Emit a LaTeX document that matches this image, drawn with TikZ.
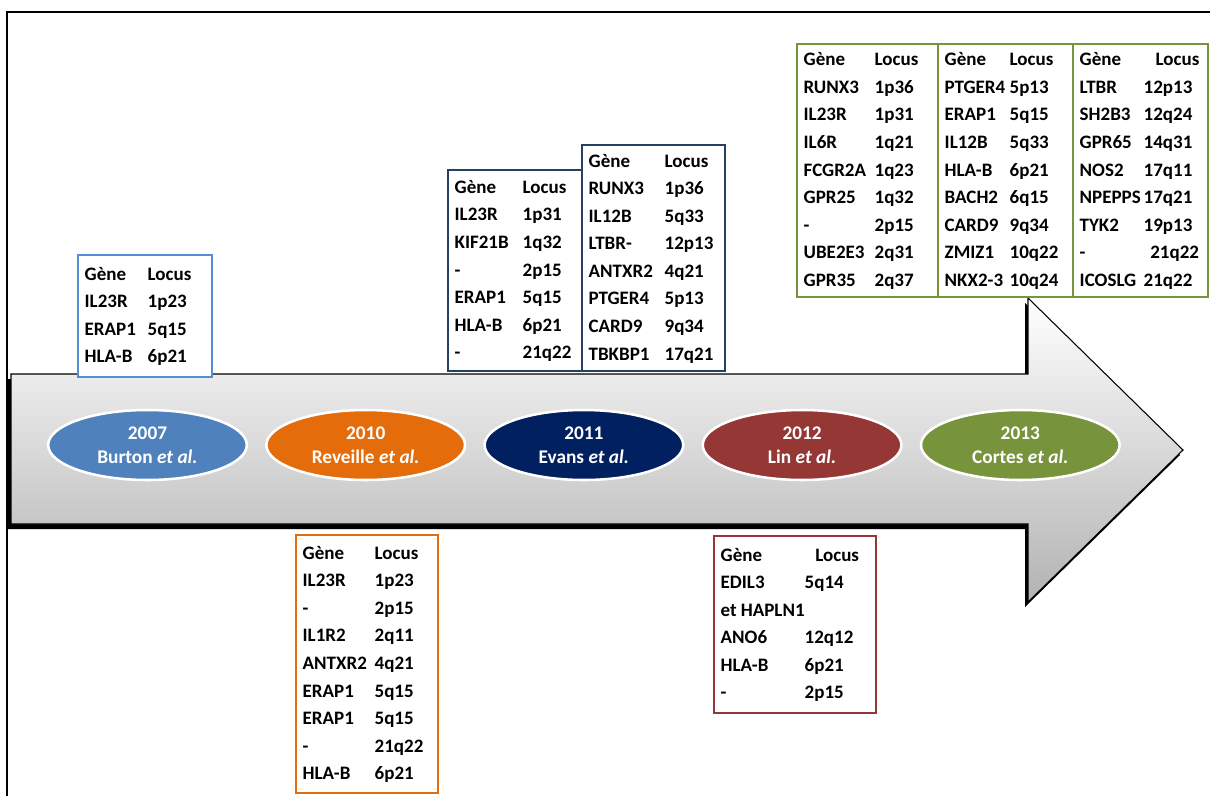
\documentclass[tikz,border=0pt]{standalone}
\usepackage{fontspec}
\setmainfont{Carlito}
\usetikzlibrary{positioning,shapes.geometric}
\definecolor{burtonblue}{HTML}{4F81BD}
\definecolor{burtonline}{HTML}{558ED5}
\definecolor{reveilleorange}{HTML}{E46C0A}
\definecolor{evansnavy}{HTML}{002060}
\definecolor{evansline}{HTML}{254061}
\definecolor{linred}{HTML}{953735}
\definecolor{cortesgreen}{HTML}{77933C}
\newcommand{\genetab}[3]{\begin{tabular}{@{}p{#1}@{}p{#2}@{}}#3\end{tabular}}

\begin{document}
\begin{tikzpicture}[x=0.75pt,y=-0.75pt,
	yearnode/.style={ellipse,draw=white,line width=1.9pt,fill=#1,minimum width=149pt,minimum height=52.5pt,inner sep=0pt,text=white,align=center,font=\fontsize{14.5}{18}\selectfont\bfseries},
	genebox/.style={rectangle,draw=#1,line width=1.5pt,fill=white,inner xsep=5pt,inner ysep=0pt,outer sep=0pt,anchor=north west,font=\fontsize{14.25}{20.68}\selectfont\bfseries},
	node distance=12.75pt]
		\useasboundingbox (0,0) rectangle (1210,796);
		\draw[line width=1.7pt] (7,796) -- (7,12) -- (1210,12);
		% timeline arrow
		\fill[black,shift={(-3,5)}] (11,374) -- (1028,374) -- (1028,298) -- (1183,450) -- (1028,602) -- (1028,524) -- (11,524) -- cycle;
		\shade[top color=white,bottom color=black!30,draw=black,line width=0.8pt] (11,374) -- (1028,374) -- (1028,298) -- (1183,450) -- (1028,602) -- (1028,524) -- (11,524) -- cycle;
		% studies
		\node[yearnode=burtonblue] (y2007) at (147.5,445) {2007\\Burton \textit{et al.}};
		\node[yearnode=reveilleorange] (y2010) [right=of y2007] {2010\\Reveille \textit{et al.}};
		\node[yearnode=evansnavy] (y2011) [right=of y2010] {2011\\Evans \textit{et al.}};
		\node[yearnode=linred] (y2012) [right=of y2011] {2012\\Lin \textit{et al.}};
		\node[yearnode=cortesgreen] (y2013) [right=of y2012] {2013\\Cortes \textit{et al.}};
		% gene tables
		\node[genebox=burtonline,minimum height=91.5pt] (g2007) at (78,255) {\genetab{47.25pt}{43.25pt}{Gène & Locus\\ IL23R & 1p23\\ ERAP1 & 5q15\\ HLA-B & 6p21}};
		\node[genebox=reveilleorange,minimum height=193.5pt] (g2010) at (296,535) {\genetab{54pt}{42.5pt}{Gène & Locus\\ IL23R & 1p23\\ - & 2p15\\ IL1R2 & 2q11\\ ANTXR2 & 4q21\\ ERAP1 & 5q15\\ ERAP1 & 5q15\\ - & 21q22\\ HLA-B & 6p21}};
		\node[genebox=evansline,minimum height=169.5pt] (g2011b) at (582,145) {\genetab{57pt}{40.25pt}{Gène & Locus\\ RUNX3 & 1p36\\ IL12B & 5q33\\ LTBR- & 12p13\\ ANTXR2 & 4q21\\ PTGER4 & 5p13\\ CARD9 & 9q34\\ TBKBP1 & 17q21}};
		\node[genebox=evansline,minimum height=150.75pt,anchor=south east] (g2011a) at (g2011b.south west) {\genetab{51pt}{39.5pt}{Gène & Locus\\ IL23R & 1p31\\ KIF21B & 1q32\\ - & 2p15\\ ERAP1 & 5q15\\ HLA-B & 6p21\\ - & 21q22}};
		\node[genebox=linred,minimum height=132.75pt] (g2012) at (714,536) {\genetab{63pt}{48.5pt}{Gène & \hspace*{8pt}Locus\\ EDIL3 & 5q14\\ et~HAPLN1 & \\ ANO6 & 12q12\\ HLA-B & 6p21\\ - & 2p15}};
		\node[genebox=cortesgreen,minimum height=189.75pt] (g2013a) at (797,44) {\genetab{53.25pt}{42.5pt}{Gène & Locus\\ RUNX3 & 1p36\\ IL23R & 1p31\\ IL6R & 1q21\\ FCGR2A & 1q23\\ GPR25 & 1q32\\ - & 2p15\\ UBE2E3 & 2q31\\ GPR35 & 2q37}};
		\node[genebox=cortesgreen,minimum height=189.75pt] (g2013b) at (g2013a.north east) {\genetab{48.75pt}{42.5pt}{Gène & Locus\\ PTGER4 & 5p13\\ ERAP1 & 5q15\\ IL12B & 5q33\\ HLA-B & 6p21\\ BACH2 & 6q15\\ CARD9 & 9q34\\ ZMIZ1 & 10q22\\ NKX2-3 & 10q24}};
		\node[genebox=cortesgreen,minimum height=189.75pt] (g2013c) at (g2013b.north east) {\genetab{48pt}{43.25pt}{Gène & \hspace*{9pt}Locus\\ LTBR & 12p13\\ SH2B3 & 12q24\\ GPR65 & 14q31\\ NOS2 & 17q11\\ NPEPPS & 17q21\\ TYK2 & 19p13\\ - & \hspace*{5pt}21q22\\ ICOSLG & 21q22}};
	\end{tikzpicture}
\end{document}
